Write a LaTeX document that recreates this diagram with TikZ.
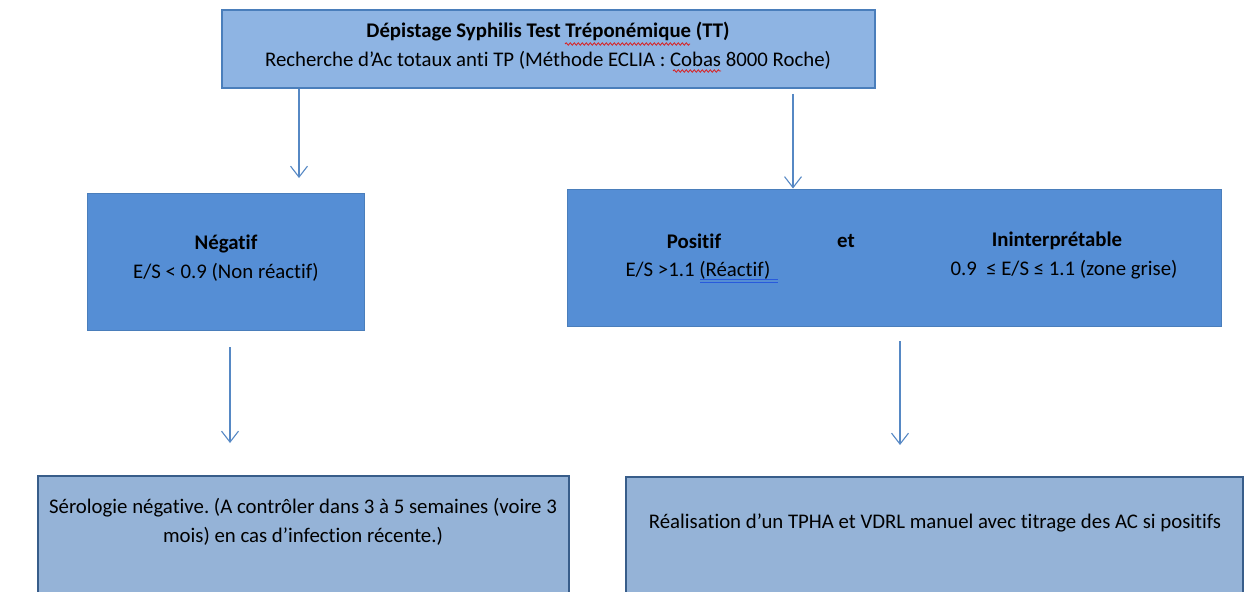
\documentclass[tikz,border=0pt]{standalone}
\usepackage{fontspec}
\setmainfont{Carlito}[Ligatures=NoCommon]
\usetikzlibrary{arrows.meta,decorations.pathmorphing}
\frenchspacing

\definecolor{topfill}{RGB}{142,180,227}
\definecolor{midfill}{RGB}{85,142,213}
\definecolor{lowfill}{RGB}{149,179,215}
\definecolor{boxline}{RGB}{74,126,187}
\definecolor{darkline}{RGB}{56,93,138}
\definecolor{arrowblue}{RGB}{86,136,196}
\definecolor{spellred}{RGB}{220,30,30}
\definecolor{grammarblue}{RGB}{40,90,220}

\tikzset{
  box/.style={draw, rectangle, inner sep=0pt, anchor=center},
  topbox/.style={box, fill=topfill, draw=boxline, line width=2pt},
  midbox/.style={box, fill=midfill, draw=boxline, line width=1pt},
  lowbox/.style={box, fill=lowfill, draw=darkline, line width=2.5pt},
  txt/.style={font=\fontsize{20.8}{29}\selectfont, inner sep=0pt, align=center, text=black},
  btxt/.style={txt, font=\fontsize{20.8}{29}\selectfont\bfseries},
  arr/.style={draw=arrowblue, line width=1.1pt,
    -{Straight Barb[length=11pt,width=17pt,line width=1.1pt]}},
  spell/.style={draw=spellred, line width=0.8pt,
    decorate, decoration={snake, amplitude=1.2pt, segment length=4pt}},
}

\begin{document}
\begin{tikzpicture}[x=1pt,y=-1pt]
\useasboundingbox (0,0) rectangle (1246,591);
\clip (0,0) rectangle (1246,591);

% boxes
\node[topbox, minimum width=653pt, minimum height=78pt] (top) at (548.5,49) {};
\node[midbox, minimum width=277pt, minimum height=137pt] (neg) at (225.5,261.5) {};
\node[midbox, minimum width=654pt, minimum height=137pt] (pos) at (894,257.5) {};
\node[lowbox, minimum width=531pt, minimum height=150pt] (serneg) at (303.5,551) {};
\node[lowbox, minimum width=617pt, minimum height=150pt] (tpha) at (934.5,552) {};

% texts of the first test
\node[btxt] (t1) at (548,32) {Dépistage Syphilis Test Tréponémique (TT)};
\node[txt] (t2) at (548,60) {Recherche d’Ac totaux anti TP (Méthode ECLIA : Cobas 8000 Roche)};

% negative result
\node[btxt] (n1) at (226,244) {Négatif};
\node[txt] (n2) at (226,272) {E/S < 0.9 (Non réactif)};

% positive / grey zone result
\node[btxt] (p1) at (694,241) {Positif};
\node[btxt] (p2) at (846,241) {et};
\node[btxt] (p3) at (1057,241) {Ininterprétable};
\node[txt] (p4) at (698,270) {E/S >1.1 (Réactif)};
\node[txt] (p5) at (1064,270) {0.9 \ ≤ E/S ≤ 1.1 (zone grise)};

% follow-up actions
\node[txt] (s1) at (303,522) {Sérologie négative. (A contrôler dans 3 à 5 semaines (voire 3\\mois) en cas d’infection récente.)};
\node[txt] (r1) at (935,523) {Réalisation d’un TPHA et VDRL manuel avec titrage des AC si positifs};

% proofing marks under words
\draw[spell] (565,44) -- (690,44);
\draw[spell] (673,71) -- (721,71);
\draw[grammarblue, line width=0.8pt] (700,279.5) -- (778,279.5);
\draw[grammarblue, line width=0.8pt] (700,282.5) -- (778,282.5);

% connectors
\coordinate (e1) at (299,178);
\coordinate (s2) at (793,94);
\coordinate (s3) at (230,347);
\coordinate (e3) at (230,443);
\coordinate (s4) at (900,341);
\coordinate (e4) at (900,445);
\draw[arr] (top.south -| e1) -- (e1);
\draw[arr] (s2) -- (pos.north -| s2);
\draw[arr] (s3) -- (e3);
\draw[arr] (s4) -- (e4);
\end{tikzpicture}
\end{document}
